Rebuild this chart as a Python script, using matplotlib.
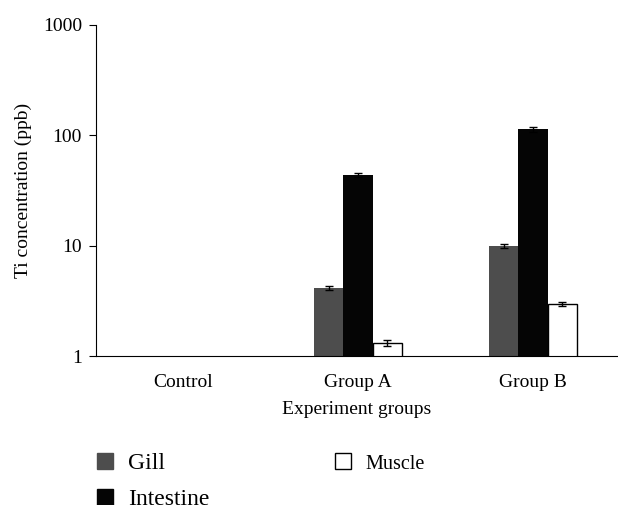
import numpy as np
import matplotlib.pyplot as plt
from matplotlib.patches import Patch

# data
groups = ['Control', 'Group A', 'Group B']
gill = [np.nan, 4.15, 10.0]
gill_err = [0, 0.18, 0.4]
intestine = [np.nan, 43.3, 113.0]
intestine_err = [0, 1.8, 5.0]
muscle = [np.nan, 1.31, 2.97]
muscle_err = [0, 0.08, 0.12]

plt.rcParams['font.family'] = ['Liberation Serif', 'DejaVu Serif']

fig = plt.figure(figsize=(6.18, 5.05), dpi=100)
ax = fig.add_axes([0.1553, 0.295, 0.843, 0.6555])

x = np.arange(len(groups))
w = 0.168
ekw = dict(elinewidth=1, capthick=1, capsize=3, ecolor='black')
ax.bar(x - w, gill, w, yerr=gill_err, color='#4d4d4d', error_kw=ekw, label='Gill')
ax.bar(x, intestine, w, yerr=intestine_err, color='#050505', error_kw=ekw, label='Intestine')
ax.bar(x + w, muscle, w, yerr=muscle_err, color='white', edgecolor='black',
       linewidth=1, error_kw=ekw, label='Muscle')

ax.set_yscale('log')
ax.set_ylim(1, 1000)
ax.set_xlim(-0.497, 2.48)
ax.set_yticks([1, 10, 100, 1000])
ax.set_yticklabels(['1', '10', '100', '1000'])
ax.minorticks_off()
ax.set_xticks(x)
ax.set_xticklabels(groups)
ax.tick_params(axis='x', length=0, labelsize=14, pad=13)
ax.tick_params(axis='y', direction='out', length=5, labelsize=14, pad=5)
for s in ['top', 'right']:
    ax.spines[s].set_visible(False)
ax.set_xlabel('Experiment groups', fontsize=14, labelpad=7)
ax.set_ylabel('Ti concentration (ppb)', fontsize=14, labelpad=8)

handles = [Patch(facecolor='#4d4d4d', edgecolor='#4d4d4d'),
           Patch(facecolor='#050505', edgecolor='#050505'),
           Patch(facecolor='white', edgecolor='black')]
leg = fig.legend(handles, ['Gill', 'Intestine', 'Muscle'], ncol=2, frameon=False,
                 loc='upper left', bbox_to_anchor=(0.157, 0.103), fontsize=17,
                 borderpad=0, borderaxespad=0,
                 handlelength=0.68, handleheight=0.68, handletextpad=0.64,
                 columnspacing=5.3, labelspacing=0.62)
leg.get_texts()[2].set_fontsize(14.5)

fig.savefig('out.png', dpi=100)
